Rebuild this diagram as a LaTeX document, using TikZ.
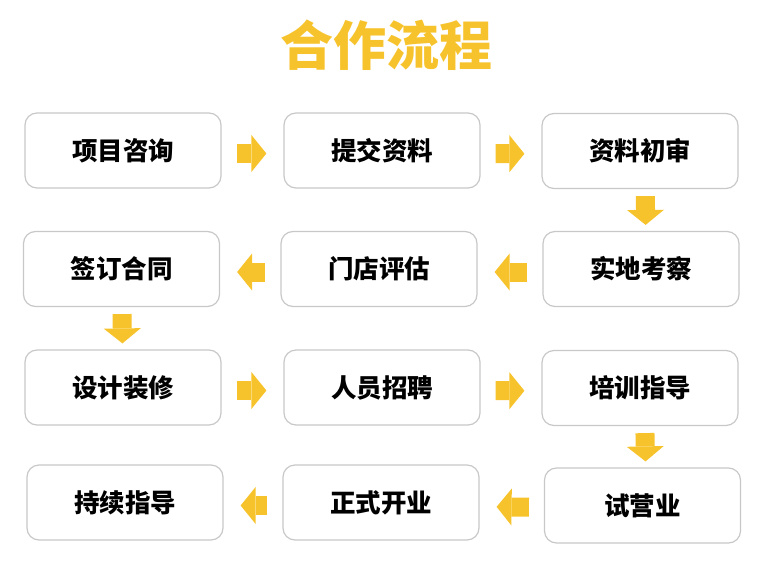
\documentclass[tikz,border=0pt]{standalone}
\usepackage{fontspec}
\usepackage{xcolor}
\usetikzlibrary{arrows.meta}
\newfontfamily\cjk{Noto Sans CJK SC}
\definecolor{flowyellow}{RGB}{247,195,45}
\definecolor{boxgray}{RGB}{200,200,200}

\begin{document}
\begin{tikzpicture}[x=1pt, y=-1pt,
        stepbox/.style={draw=boxgray, line width=1.2pt, rounded corners=12pt, fill=white,
            minimum width=196pt, minimum height=75pt, inner sep=0pt,
            font=\cjk\bfseries\fontsize{25.5}{30}\selectfont},
        flow/.style={draw=flowyellow, line width=19pt,
            -{Triangle[width=37pt, length=15pt, line width=0pt, fill=flowyellow]}},
        hflow/.style={flow, shorten <=15pt, shorten >=17pt, transform canvas={yshift=-3pt}},
        vflow/.style={flow, shorten <=7pt, shorten >=6pt}]
        \useasboundingbox (0, 0) rectangle (759, 580);
        \node[font=\cjk\bfseries\fontsize{53}{60}\selectfont, text=flowyellow] (title) at (386, 45) {合作流程};
        % row 1
        \node[stepbox] (n1) at (123, 150.5) {项目咨询};
        \node[stepbox] (n2) at (382, 150.5) {提交资料};
        \node[stepbox] (n3) at (640, 151) {资料初审};
        % row 2
        \node[stepbox] (n6) at (121.5, 269) {签订合同};
        \node[stepbox] (n5) at (379, 269) {门店评估};
        \node[stepbox] (n4) at (641, 269) {实地考察};
        % row 3
        \node[stepbox] (n7) at (123, 387.5) {设计装修};
        \node[stepbox] (n8) at (382, 387.5) {人员招聘};
        \node[stepbox] (n9) at (640, 388) {培训指导};
        % row 4
        \node[stepbox] (n12) at (125, 502.5) {持续指导};
        \node[stepbox] (n11) at (381, 502.5) {正式开业};
        \node[stepbox] (n10) at (642.5, 505.5) {试营业};
        % arrows
        \draw[hflow] (n1) -- (n2);
        \draw[hflow] (n2) -- (n3);
        \draw[vflow, transform canvas={xshift=5pt}] (n3) -- (n4);
        \draw[hflow] (n4) -- (n5);
        \draw[hflow] (n5) -- (n6);
        \draw[vflow] (n6) -- (n7);
        \draw[hflow] (n7) -- (n8);
        \draw[hflow] (n8) -- (n9);
        \draw[vflow, transform canvas={xshift=4pt}] (n9) -- (n10);
        \draw[hflow] (n10) -- (n11);
        \draw[hflow] (n11) -- (n12);
    \end{tikzpicture}
\end{document}
